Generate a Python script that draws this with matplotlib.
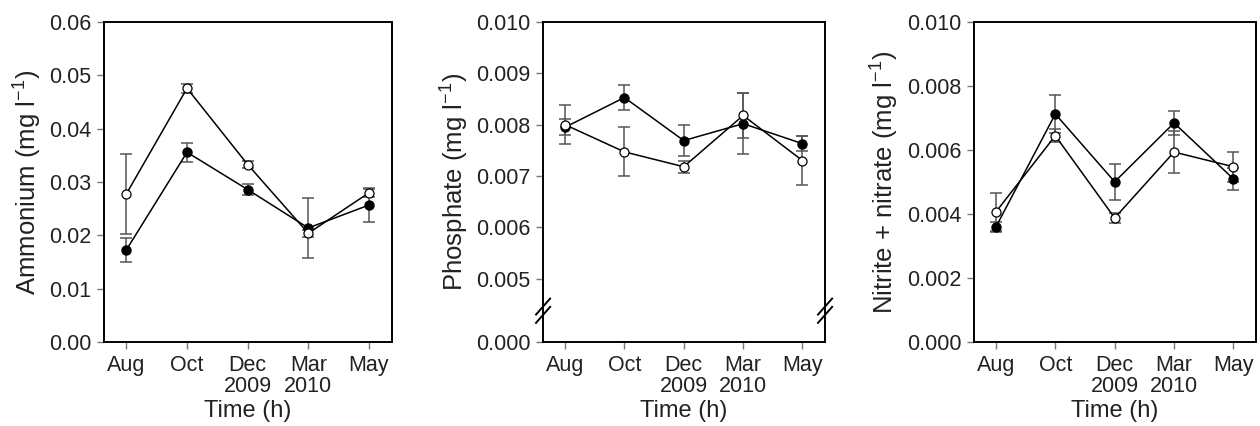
import matplotlib.pyplot as plt

plt.rcParams['font.family'] = ['Liberation Sans', 'DejaVu Sans']
plt.rcParams['mathtext.fontset'] = 'custom'
plt.rcParams['mathtext.rm'] = 'Liberation Sans'
plt.rcParams['mathtext.default'] = 'regular'

months = ['Aug', 'Oct', 'Dec\n2009', 'Mar\n2010', 'May']

# ammonium
amm_filled = [0.0173, 0.0356, 0.0286, 0.0214, 0.0257]
amm_filled_err = [0.0023, 0.0018, 0.0010, 0.0057, 0.0032]
amm_open = [0.0278, 0.0476, 0.0333, 0.0204, 0.0280]
amm_open_err = [0.0075, 0.0008, 0.0007, 0.0006, 0.0008]

# phosphate
pho_filled = [0.00795, 0.00853, 0.00769, 0.00802, 0.00763]
pho_filled_err = [0.00016, 0.00025, 0.00030, 0.00060, 0.00015]
pho_open = [0.00800, 0.00747, 0.00718, 0.00818, 0.00730]
pho_open_err = [0.00038, 0.00048, 0.00012, 0.00043, 0.00048]

# nitrite + nitrate
nit_filled = [0.00360, 0.00713, 0.00501, 0.00685, 0.00510]
nit_filled_err = [0.00015, 0.00058, 0.00056, 0.00038, 0.00035]
nit_open = [0.00407, 0.00645, 0.00388, 0.00594, 0.00548]
nit_open_err = [0.00060, 0.00020, 0.00015, 0.00065, 0.00047]

fig = plt.figure(figsize=(12.6, 4.26), dpi=100)
positions = [[0.0825, 0.197, 0.2286, 0.751],
             [0.431, 0.197, 0.2238, 0.751],
             [0.773, 0.197, 0.2238, 0.751]]
panels = [
    (amm_filled, amm_filled_err, amm_open, amm_open_err, 'Ammonium (mg l$^{-1}$)'),
    (pho_filled, pho_filled_err, pho_open, pho_open_err, 'Phosphate (mg l$^{-1}$)'),
    (nit_filled, nit_filled_err, nit_open, nit_open_err, 'Nitrite + nitrate (mg l$^{-1}$)'),
]

x = list(range(len(months)))
axes = []
for i, (yf, ef, yo, eo, label) in enumerate(panels):
    ax = fig.add_axes(positions[i])
    axes.append(ax)
    for y, e in [(yf, ef), (yo, eo)]:
        ax.errorbar(x, y, yerr=e, fmt='none', ecolor='#555555', elinewidth=1.1,
                    capsize=4, capthick=1.1, zorder=2)
    ax.plot(x, yf, '-o', color='black', lw=1.1, ms=6.5, mfc='black', mec='black', zorder=3)
    ax.plot(x, yo, '-o', color='black', lw=1.1, ms=6.5, mfc='white', mec='black', mew=0.9, zorder=4)
    ax.set_xlim(-0.37, 4.38)
    ax.set_xticks(x)
    ax.set_xticklabels(months, fontsize=15.5, color='#222222', linespacing=1.05)
    ax.set_xlabel('Time (h)', fontsize=17, color='#222222', labelpad=2)
    ax.set_ylabel(label, fontsize=18.5, color='#222222', labelpad=4)
    ax.tick_params(direction='out', length=5, width=1, color='#777777', labelsize=15.5,
                   labelcolor='#222222', pad=4)
    for s in ax.spines.values():
        s.set_linewidth(1.4)

# ammonium axis
axes[0].set_ylim(0, 0.06)
axes[0].set_yticks([0, 0.01, 0.02, 0.03, 0.04, 0.05, 0.06])
axes[0].set_yticklabels(['0.00', '0.01', '0.02', '0.03', '0.04', '0.05', '0.06'])

# phosphate axis with a break between 0.000 and 0.005
ph_bottom = 0.00376
axes[1].set_ylim(ph_bottom, 0.010)
axes[1].set_yticks([ph_bottom, 0.005, 0.006, 0.007, 0.008, 0.009, 0.010])
axes[1].set_yticklabels(['0.000', '0.005', '0.006', '0.007', '0.008', '0.009', '0.010'])
for xs in [0, 1]:
    for dy in [0.0, 0.026]:
        axes[1].plot([xs - 0.025, xs + 0.025], [0.085 + dy - 0.025, 0.085 + dy + 0.025],
                     color='black', lw=1.4, transform=axes[1].transAxes, clip_on=False)

# nitrite + nitrate axis
axes[2].set_ylim(0, 0.010)
axes[2].set_yticks([0, 0.002, 0.004, 0.006, 0.008, 0.010])
axes[2].set_yticklabels(['0.000', '0.002', '0.004', '0.006', '0.008', '0.010'])

fig.savefig('out.png', dpi=100)
